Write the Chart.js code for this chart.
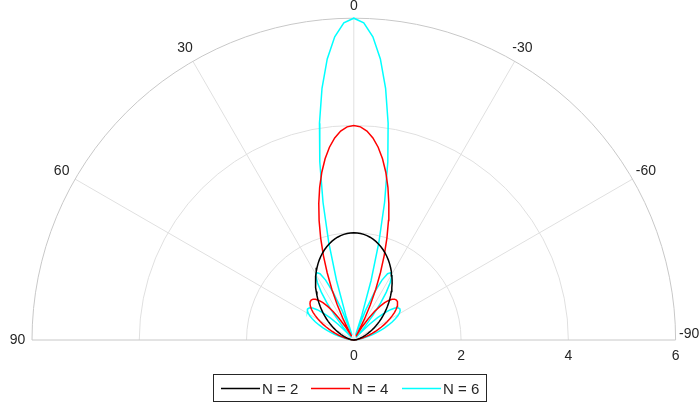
<!DOCTYPE html>
<html>
<head>
<meta charset="utf-8">
<script src="https://cdn.jsdelivr.net/npm/chart.js@4/dist/chart.umd.min.js"></script>
<style>
  html, body { margin: 0; padding: 0; background: #fff; }
</style>
</head>
<body>
<canvas id="polarChart" width="700" height="405"></canvas>
<script>
// Angle (deg from broadside, + to the left) shared by all three patterns
const theta = [
  -90, -88.2, -86.4, -84.6, -82.8, -81, -79.2, -77.4, -75.6, -73.8, -72, -70.2, -68.4, -66.6, -64.8, -63, -61.2,
  -59.4, -57.6, -55.8, -54, -52.2, -50.4, -48.6, -46.8, -45, -43.2, -41.4, -39.6, -37.8, -36, -34.2, -32.4, -30.6,
  -28.8, -27, -25.2, -23.4, -21.6, -19.8, -18, -16.2, -14.4, -12.6, -10.8, -9, -7.2, -5.4, -3.6, -1.8,
  0,
  1.8, 3.6, 5.4, 7.2, 9, 10.8, 12.6, 14.4, 16.2, 18, 19.8, 21.6, 23.4, 25.2, 27, 28.8, 30.6, 32.4, 34.2, 36, 37.8,
  39.6, 41.4, 43.2, 45, 46.8, 48.6, 50.4, 52.2, 54, 55.8, 57.6, 59.4, 61.2, 63, 64.8, 66.6, 68.4, 70.2, 72, 73.8,
  75.6, 77.4, 79.2, 81, 82.8, 84.6, 86.4, 88.2, 90
];

// Pattern magnitude, N = 2
const rN2 = [
  0.000, 0.002, 0.006, 0.014, 0.025, 0.039, 0.056, 0.076, 0.099, 0.125, 0.154, 0.186, 0.220, 0.258, 0.298, 0.341, 0.386,
  0.434, 0.484, 0.537, 0.591, 0.647, 0.705, 0.765, 0.826, 0.888, 0.951, 1.015, 1.079, 1.142, 1.206, 1.271, 1.332, 1.394,
  1.454, 1.512, 1.569, 1.623, 1.675, 1.724, 1.769, 1.811, 1.849, 1.884, 1.914, 1.940, 1.961, 1.978, 1.990, 1.998,
  2.000,
  1.998, 1.990, 1.978, 1.961, 1.940, 1.914, 1.884, 1.849, 1.811, 1.769, 1.724, 1.675, 1.623, 1.569, 1.512, 1.454, 1.394,
  1.332, 1.271, 1.206, 1.142, 1.079, 1.015, 0.951, 0.888, 0.826, 0.765, 0.705, 0.647, 0.591, 0.537, 0.484, 0.434, 0.386,
  0.341, 0.298, 0.258, 0.220, 0.186, 0.154, 0.125, 0.099, 0.076, 0.056, 0.039, 0.025, 0.014, 0.006, 0.002, 0.000
];

// N = 4
const rN4 = [
  0.000, 0.003, 0.012, 0.028, 0.050, 0.077, 0.111, 0.151, 0.196, 0.247, 0.304, 0.365, 0.430, 0.498, 0.569, 0.642, 0.715,
  0.786, 0.855, 0.919, 0.976, 1.024, 1.060, 1.082, 1.089, 1.076, 1.042, 0.983, 0.903, 0.794, 0.657, 0.492, 0.299, 0.079,
  0.167, 0.436, 0.725, 1.031, 1.348, 1.673, 1.998, 2.318, 2.626, 2.917, 3.184, 3.421, 3.623, 3.785, 3.903, 3.976,
  4.000,
  3.976, 3.903, 3.785, 3.623, 3.421, 3.184, 2.917, 2.626, 2.318, 1.998, 1.673, 1.348, 1.031, 0.725, 0.436, 0.167, 0.079,
  0.299, 0.492, 0.657, 0.794, 0.903, 0.983, 1.042, 1.076, 1.089, 1.082, 1.060, 1.024, 0.976, 0.919, 0.855, 0.786, 0.715,
  0.642, 0.569, 0.498, 0.430, 0.365, 0.304, 0.247, 0.196, 0.151, 0.111, 0.077, 0.050, 0.028, 0.012, 0.003, 0.000
];

// N = 6
const rN6 = [
  0.000, 0.005, 0.019, 0.042, 0.074, 0.116, 0.166, 0.225, 0.292, 0.366, 0.446, 0.531, 0.618, 0.706, 0.790, 0.869, 0.937,
  0.990, 1.025, 1.037, 1.020, 0.971, 0.887, 0.766, 0.609, 0.415, 0.191, 0.063, 0.323, 0.591, 0.849, 1.079, 1.265, 1.390,
  1.434, 1.387, 1.234, 0.969, 0.589, 0.101, 0.487, 1.155, 1.880, 2.632, 3.384, 4.091, 4.730, 5.263, 5.665, 5.915,
  6.000,
  5.915, 5.665, 5.263, 4.730, 4.091, 3.384, 2.632, 1.880, 1.155, 0.487, 0.101, 0.589, 0.969, 1.234, 1.387, 1.434, 1.390,
  1.265, 1.079, 0.849, 0.591, 0.323, 0.063, 0.191, 0.415, 0.609, 0.766, 0.887, 0.971, 1.020, 1.037, 1.025, 0.990, 0.937,
  0.869, 0.790, 0.706, 0.618, 0.531, 0.446, 0.366, 0.292, 0.225, 0.166, 0.116, 0.074, 0.042, 0.019, 0.005, 0.000
];

const seriesLabels = ['N = 2', 'N = 4', 'N = 6'];
const seriesColors = ['#000000', '#ff0000', '#00ffff'];

const rTicks = [0, 2, 4, 6];
const thetaTicks = [90, 60, 30, 0, -30, -60, -90];

const textColor = '#262626';
const gridColor = '#e0e0e0';
const edgeColor = '#c8c8c8';
const rMax = 6;

// polar (deg, r) -> chart x/y, theta zero at top, counter-clockwise
function toXY(t, r) {
  const a = t * Math.PI / 180;
  return { x: -r * Math.sin(a), y: r * Math.cos(a) };
}

const polarGrid = {
  id: 'polarGrid',
  beforeDatasetsDraw(chart) {
    const { ctx, scales: { x, y } } = chart;
    const cx = x.getPixelForValue(0);
    const cy = y.getPixelForValue(0);
    const unit = x.getPixelForValue(1) - cx;
    const R = rMax * unit;
    ctx.save();
    ctx.lineWidth = 1;

    ctx.strokeStyle = gridColor;
    rTicks.filter(r => r > 0 && r < rMax).forEach(r => {
      ctx.beginPath();
      ctx.arc(cx, cy, r * unit, Math.PI, 2 * Math.PI);
      ctx.stroke();
    });
    thetaTicks.filter(t => Math.abs(t) < 90).forEach(t => {
      const p = toXY(t, rMax);
      ctx.beginPath();
      ctx.moveTo(cx, cy);
      ctx.lineTo(x.getPixelForValue(p.x), y.getPixelForValue(p.y));
      ctx.stroke();
    });

    ctx.strokeStyle = edgeColor;
    ctx.beginPath();
    ctx.moveTo(cx - R, cy);
    ctx.lineTo(cx + R, cy);
    ctx.stroke();
    ctx.beginPath();
    ctx.arc(cx, cy, R, Math.PI, 2 * Math.PI);
    ctx.stroke();
    ctx.restore();
  },
  afterDraw(chart) {
    const { ctx, scales: { x, y } } = chart;
    const cy = y.getPixelForValue(0);
    ctx.save();
    ctx.fillStyle = textColor;
    ctx.font = '14px "Liberation Sans", Arial, sans-serif';
    ctx.textAlign = 'center';
    ctx.textBaseline = 'middle';

    // angle labels
    thetaTicks.forEach(t => {
      let p;
      if (t === 0) p = toXY(t, 6.22);
      else if (Math.abs(t) === 90) p = toXY(t, 6.27);
      else p = toXY(t, 6.29);
      let px = x.getPixelForValue(p.x);
      let py = y.getPixelForValue(p.y);
      if (t === -90) { px -= 1; py -= 6; }
      ctx.fillText(String(t), px, py);
    });

    // radial labels under the baseline
    rTicks.forEach(r => {
      ctx.fillText(String(r), x.getPixelForValue(r), cy + 16);
    });

    // legend box
    const box = { l: 213.5, t: 374.5, w: 273, h: 27 };
    ctx.fillStyle = '#ffffff';
    ctx.fillRect(box.l, box.t, box.w, box.h);
    ctx.strokeStyle = '#262626';
    ctx.lineWidth = 1;
    ctx.strokeRect(box.l, box.t, box.w, box.h);

    const lineStarts = [221, 311, 402];
    const ly = 388.5;
    ctx.font = '15px "Liberation Sans", Arial, sans-serif';
    ctx.textAlign = 'left';
    seriesLabels.forEach((lab, i) => {
      ctx.strokeStyle = seriesColors[i];
      ctx.lineWidth = 1.5;
      ctx.beginPath();
      ctx.moveTo(lineStarts[i], ly);
      ctx.lineTo(lineStarts[i] + 39, ly);
      ctx.stroke();
      ctx.fillStyle = textColor;
      ctx.fillText(lab, lineStarts[i] + 41, ly + 1);
    });
    ctx.restore();
  }
};

const seriesR = [rN2, rN4, rN6];
const datasets = seriesR.map((rs, i) => ({
  label: seriesLabels[i],
  data: theta.map((t, k) => toXY(t, rs[k])),
  showLine: true,
  borderColor: seriesColors[i],
  borderWidth: 1.5,
  pointRadius: 0,
  fill: false,
  tension: 0,
  clip: false
}));

new Chart(document.getElementById('polarChart').getContext('2d'), {
  type: 'scatter',
  data: { datasets },
  plugins: [polarGrid],
  options: {
    responsive: false,
    animation: false,
    devicePixelRatio: 1,
    layout: { padding: { left: 32, right: 24.4, top: 18.2, bottom: 65 } },
    plugins: {
      legend: { display: false },
      tooltip: { enabled: false }
    },
    scales: {
      x: { type: 'linear', min: -rMax, max: rMax, display: false },
      y: { type: 'linear', min: 0, max: rMax, display: false }
    }
  }
});
</script>
</body>
</html>
